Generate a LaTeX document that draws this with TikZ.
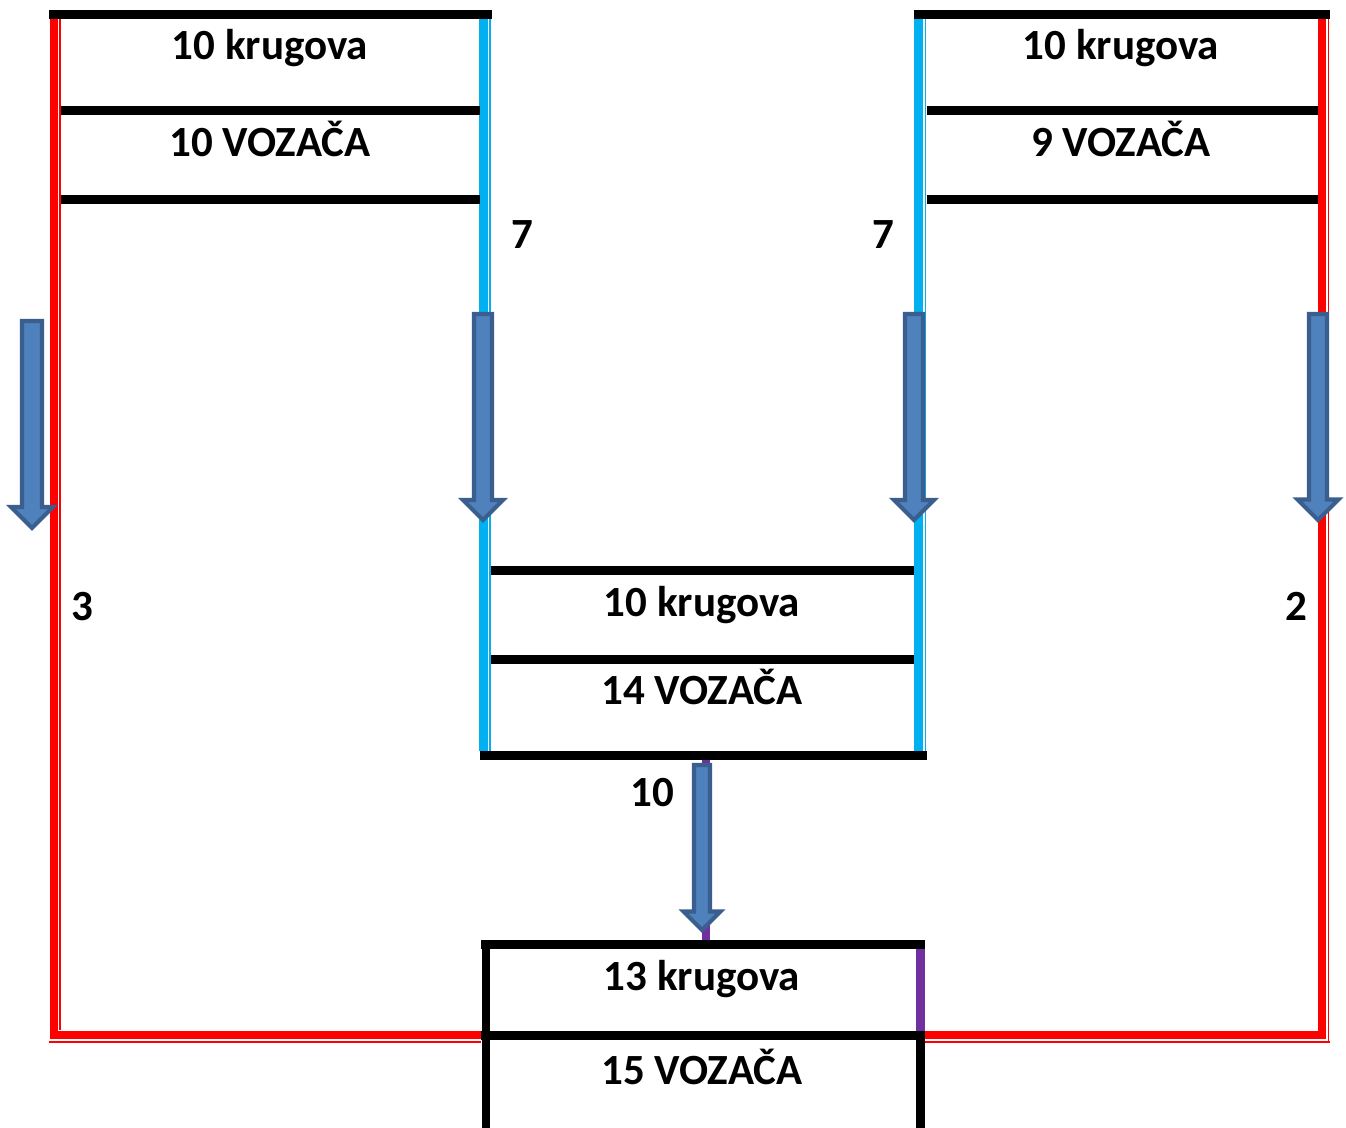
\documentclass[tikz,border=0pt]{standalone}
\usepackage{fontspec}
\setmainfont{Carlito}
\usepackage{tikz}
\usetikzlibrary{positioning}

\definecolor{trackred}{HTML}{FF0000}
\definecolor{trackblue}{HTML}{00B0F0}
\definecolor{trackpurple}{HTML}{7030A0}
\definecolor{arrfill}{HTML}{4F81BD}
\definecolor{arrline}{HTML}{3A5F8E}

% block arrow pointing down: x, top, tip, shaft half width, head half width
\newcommand{\blockarrow}[5]{
  \draw[blockarr] ({#1-#4},#2) -- ({#1+#4},#2) -- ({#1+#4},{#3-#5})
    -- ({#1+#5},{#3-#5}) -- (#1,#3) -- ({#1-#5},{#3-#5})
    -- ({#1-#4},{#3-#5}) -- cycle;
}

\begin{document}
\begin{tikzpicture}[x=0.02cm,y=-0.02cm,
    bar/.style={line width=5.1pt,black},
    redthick/.style={line width=4.8pt,trackred},
    redthin/.style={line width=1.1pt,trackred},
    bluethick/.style={line width=5.1pt,trackblue},
    bluethin/.style={line width=1.1pt,trackblue},
    purpleline/.style={line width=4.6pt,trackpurple},
    blockarr/.style={fill=arrfill,draw=arrline,line width=2.4pt,line join=miter},
    txt/.style={anchor=base,font=\fontsize{24.5}{29}\selectfont\bfseries,inner sep=0pt}]

  \useasboundingbox (0,0) rectangle (1346,1128);

  % blue lines
  \draw[bluethick] (483.8,19) -- (483.8,751);
  \draw[bluethin] (490,19) -- (490,751);
  \draw[bluethick] (918.8,19) -- (918.8,751);
  \draw[bluethin] (925.5,19) -- (925.5,751);

  % red lines
  \draw[redthick] (53.9,19) -- (53.9,1035) -- (481,1035);
  \draw[redthin] (60.2,19) -- (60.2,1030);
  \draw[redthin] (49,1041.8) -- (481,1041.8);
  \draw[redthick] (1322.2,19) -- (1322.2,1035) -- (925,1035);
  \draw[redthin] (1328.5,19) -- (1328.5,1042.8);
  \draw[redthin] (925,1041.8) -- (1330,1041.8);

  % boxes
  \draw[bar] (49,14.5) -- (492,14.5);
  \draw[bar] (61,110.5) -- (480,110.5);
  \draw[bar] (61,199.5) -- (480,199.5);
  \draw[bar] (914,14.5) -- (1330,14.5);
  \draw[bar] (927,110.5) -- (1318,110.5);
  \draw[bar] (927,199.5) -- (1318,199.5);
  \draw[bar] (491,570.5) -- (914,570.5);
  \draw[bar] (491,659.5) -- (914,659.5);
  \draw[bar] (480,755.5) -- (927,755.5);
  \draw[purpleline] (706,760) -- (706,940);
  \draw[bar] (481,944.5) -- (925,944.5);
  \draw[bar] (486,940) -- (486,1128);
  \draw[bar] (481,1035.5) -- (925,1035.5);
  \draw[purpleline] (920.5,949) -- (920.5,1031);
  \draw[bar] (920.5,1031) -- (920.5,1128);

  % arrows
  \blockarrow{32}{321}{528}{10}{21}
  \blockarrow{483}{314}{520}{9}{20}
  \blockarrow{914}{314}{520}{9}{20}
  \blockarrow{1318}{314}{520}{9}{20.5}
  \blockarrow{702}{765}{930}{8}{18.5}

  % texts
  \node[txt] (lapsA) at (270,60) {10 krugova};
  \node[txt] (drvA) at (270,156.5) {10 VOZAČA};
  \node[txt] (lapsB) at (1121,60) {10 krugova};
  \node[txt] (drvB) at (1121,156.5) {9 VOZAČA};
  \node[txt] (lapsC) at (702,616) {10 krugova};
  \node[txt] (drvC) at (702,704.5) {14 VOZAČA};
  \node[txt] (lapsD) at (702,990) {13 krugova};
  \node[txt] (drvD) at (702,1084.5) {15 VOZAČA};

  \node[txt] (cntA) at (522,248.5) {7};
  \node[txt] (cntB) at (883,248.5) {7};
  \node[txt] (cntC) at (82,620.5) {3};
  \node[txt] (cntD) at (1296,620.5) {2};
  \node[txt] (cntE) at (652,806.5) {10};
\end{tikzpicture}
\end{document}
